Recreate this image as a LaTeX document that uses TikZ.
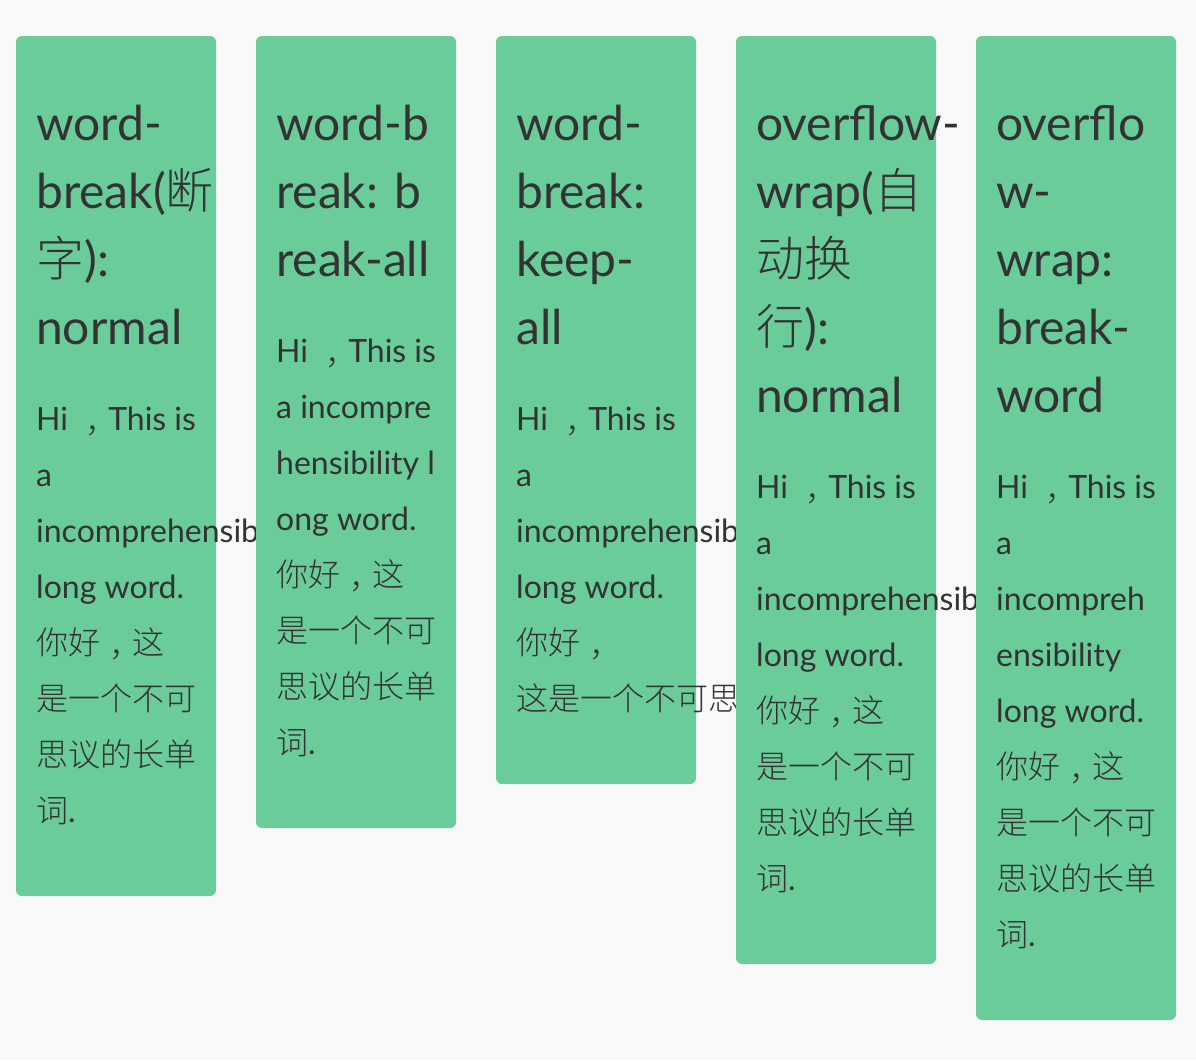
\documentclass[tikz,border=0pt]{standalone}
\usepackage{fontspec}
\setmainfont{Lato}
\IfFontExistsTF{Noto Sans CJK SC Light}
  {\newfontfamily\cjk{Noto Sans CJK SC Light}}
  {\newfontfamily\cjk{Noto Sans CJK SC}}
\IfFontExistsTF{Noto Sans CJK TC Light}
  {\newfontfamily\cjkp{Noto Sans CJK TC Light}}
  {\newfontfamily\cjkp{Noto Sans CJK TC}}
\newcommand{\fwc}{\raisebox{-12pt}{\cjkp ，}}
\newcommand{\hiline}{Hi \fwc This is}
\definecolor{bgc}{HTML}{F9F9F9}
\definecolor{cardc}{HTML}{69CC99}
\definecolor{ink}{HTML}{333333}
\tikzset{
  card/.style={fill=cardc, rounded corners=6pt},
  ttl/.style={anchor=base west, inner sep=0pt, text=ink, font=\fontsize{48}{58}\selectfont},
  txt/.style={anchor=base west, inner sep=0pt, text=ink, font=\fontsize{32}{38}\selectfont},
}
\begin{document}
\begin{tikzpicture}[x=1pt,y=-1pt]
\fill[bgc] (0,0) rectangle (1196,1060);
\useasboundingbox (0,0) rectangle (1196,1060);
% card 1
\path[card] (16,36) rectangle (216,896);
\node[ttl] (a1) at (36,140) {word-};
\node[ttl] (a2) at (36,208) {break({\cjk 断}};
\node[ttl] (a3) at (36,276) {{\cjk 字}):};
\node[ttl] (a4) at (36,344) {normal};
\node[txt] (a5) at (36,430) {\hiline};
\node[txt] (a6) at (36,486) {a};
\node[txt] (a7) at (36,542) {incomprehensib};
\node[txt] (a8) at (36,598) {long word.};
\node[txt] (a9) at (36,654) {{\cjk 你好}\fwc{\cjk 这}};
\node[txt] (a10) at (36,710) {\cjk 是一个不可};
\node[txt] (a11) at (36,766) {\cjk 思议的长单};
\node[txt] (a12) at (36,822) {{\cjk 词}.};
% card 2
\path[card] (256,36) rectangle (456,828);
\node[ttl] (b1) at (276,140) {word-b};
\node[ttl] (b2) at (276,208) {reak: b};
\node[ttl] (b3) at (276,276) {reak-all};
\node[txt] (b4) at (276,362) {\hiline};
\node[txt] (b5) at (276,418) {a incompre};
\node[txt] (b6) at (276,474) {hensibility l};
\node[txt] (b7) at (276,530) {ong word.};
\node[txt] (b8) at (276,586) {{\cjk 你好}\fwc{\cjk 这}};
\node[txt] (b9) at (276,642) {\cjk 是一个不可};
\node[txt] (b10) at (276,698) {\cjk 思议的长单};
\node[txt] (b11) at (276,754) {{\cjk 词}.};
% card 3
\path[card] (496,36) rectangle (696,784);
\node[ttl] (c1) at (516,140) {word-};
\node[ttl] (c2) at (516,208) {break:};
\node[ttl] (c3) at (516,276) {keep-};
\node[ttl] (c4) at (516,344) {all};
\node[txt] (c5) at (516,430) {\hiline};
\node[txt] (c6) at (516,486) {a};
\node[txt] (c7) at (516,542) {incomprehensib};
\node[txt] (c8) at (516,598) {long word.};
\node[txt] (c9) at (516,654) {{\cjk 你好}\fwc};
\node[txt] (c10) at (516,710) {\cjk 这是一个不可思};
% card 4
\path[card] (736,36) rectangle (936,964);
\node[ttl] (d1) at (756,140) {overflow-};
\node[ttl] (d2) at (756,208) {wrap({\cjk 自}};
\node[ttl] (d3) at (756,276) {\cjk 动换};
\node[ttl] (d4) at (756,344) {{\cjk 行}):};
\node[ttl] (d5) at (756,412) {normal};
\node[txt] (d6) at (756,498) {\hiline};
\node[txt] (d7) at (756,554) {a};
\node[txt] (d8) at (756,610) {incomprehensib};
\node[txt] (d9) at (756,666) {long word.};
\node[txt] (d10) at (756,722) {{\cjk 你好}\fwc{\cjk 这}};
\node[txt] (d11) at (756,778) {\cjk 是一个不可};
\node[txt] (d12) at (756,834) {\cjk 思议的长单};
\node[txt] (d13) at (756,890) {{\cjk 词}.};
% card 5
\path[card] (976,36) rectangle (1176,1020);
\node[ttl] (e1) at (996,140) {overflo};
\node[ttl] (e2) at (996,208) {w-};
\node[ttl] (e3) at (996,276) {wrap:};
\node[ttl] (e4) at (996,344) {break-};
\node[ttl] (e5) at (996,412) {word};
\node[txt] (e6) at (996,498) {\hiline};
\node[txt] (e7) at (996,554) {a};
\node[txt] (e8) at (996,610) {incompreh};
\node[txt] (e9) at (996,666) {ensibility};
\node[txt] (e10) at (996,722) {long word.};
\node[txt] (e11) at (996,778) {{\cjk 你好}\fwc{\cjk 这}};
\node[txt] (e12) at (996,834) {\cjk 是一个不可};
\node[txt] (e13) at (996,890) {\cjk 思议的长单};
\node[txt] (e14) at (996,946) {{\cjk 词}.};
\end{tikzpicture}
\end{document}
